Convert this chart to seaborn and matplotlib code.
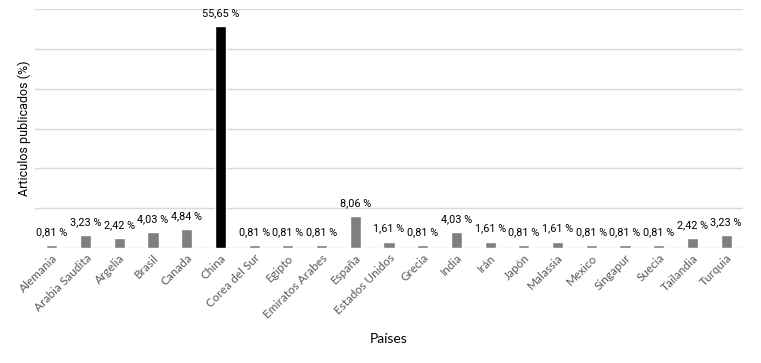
import matplotlib
matplotlib.use("Agg")
import matplotlib.pyplot as plt
import seaborn as sns
import pandas as pd

paises = ["Alemania", "Arabia Saudita", "Argelia", "Brasil", "Canada", "China",
          "Corea del Sur", "Egipto", "Emiratos Arabes", "España", "Estados Unidos",
          "Grecia", "India", "Irán", "Japón", "Malassia", "Mexico", "Singapur",
          "Suecia", "Tailandia", "Turquia"]
valores = [0.81, 3.23, 2.42, 4.03, 4.84, 55.65, 0.81, 0.81, 0.81, 8.06, 1.61,
           0.81, 4.03, 1.61, 0.81, 1.61, 0.81, 0.81, 0.81, 2.42, 3.23]
etiquetas = [f"{v:.2f}".replace(".", ",") + " %" for v in valores]
destacado = "China"

df = pd.DataFrame({"pais": paises, "valor": valores})
colores = {p: ("#000000" if p == destacado else "#7f7f7f") for p in paises}

sns.set_theme(style="white")
plt.rcParams['font.family'] = ['Roboto', 'DejaVu Sans']

fig = plt.figure(figsize=(7.61, 3.63), dpi=100)
ax = fig.add_axes([35/761, 1 - 248/363, 708/761, 239/363])

sns.barplot(data=df, x="pais", y="valor", hue="pais", palette=colores,
            width=0.33, legend=False, ax=ax, saturation=1)

ax.set_ylim(0, 60)
ax.set_xlim(-0.5, len(paises) - 0.5)
ax.set_yticks([0, 10, 20, 30, 40, 50, 60])
ax.set_yticklabels([])
ax.tick_params(axis="y", length=0)
ax.tick_params(axis="x", length=0, pad=3)
ax.yaxis.grid(True, color="#d9d9d9", linewidth=1)
ax.set_axisbelow(True)
for s in ax.spines.values():
    s.set_visible(False)

ax.set_xticks(range(len(paises)))
ax.set_xticklabels(paises, rotation=45, ha="right", rotation_mode="anchor",
                   fontsize=8.5, color="#595959", family="Lato")

for i, (v, t) in enumerate(zip(valores, etiquetas)):
    ax.text(i, v + 2.0, t, ha="center", va="bottom", fontsize=7.8,
            color="#000000", family="Roboto")

ax.set_ylabel("Articulos publicados (%)", fontsize=9, color="#000000",
              family="Roboto")
ax.yaxis.set_label_coords(-0.006, 0.5)
ax.set_xlabel("Países", fontsize=10, color="#000000", family="Lato",
              labelpad=9)

fig.savefig("out.png", dpi=100)
